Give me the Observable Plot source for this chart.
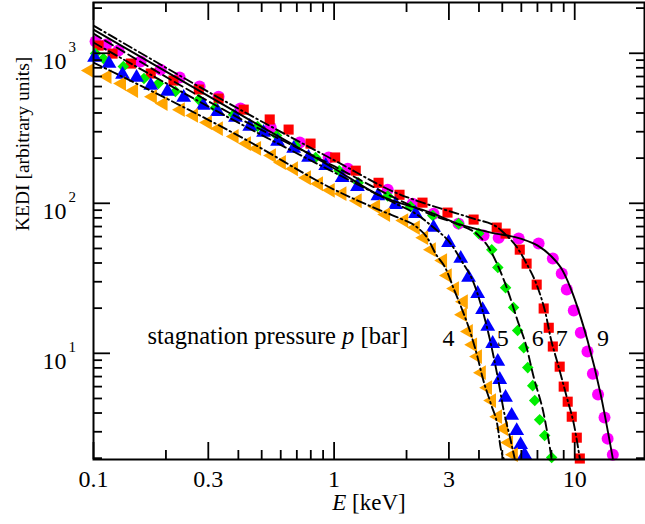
<!DOCTYPE html>
<html>
<head>
<meta charset="utf-8">
<script src="https://cdn.jsdelivr.net/npm/d3@7"></script>
<script src="https://cdn.jsdelivr.net/npm/@observablehq/plot@0.6"></script>
<style>
  html, body { margin: 0; padding: 0; background: #fff; }
  #chart { width: 645px; height: 524px; }
</style>
</head>
<body>
<div id="chart"></div>
<script>
// ---- measured points (E in keV, KEDI in arbitrary units) ----
const E9 = [0.102,0.113,0.127,0.157,0.190,0.228,0.276,0.331,0.408,0.545,0.720,0.949,1.14,1.67,2.12,2.59,3.29,4.18,4.83,5.85,7.08,8.11,8.83,9.27,9.91,10.6,11.3,11.9,12.5,13.3,13.7,14.4];
const V9 = [1197,1143,1042,881,778,689,600,514,428,320,254,202,170,123,99.5,85.3,73.2,60.9,59.0,58.2,53.9,42.8,34.0,26.6,19.3,13.7,10.3,7.32,5.31,3.73,2.70,2.11];

const E7 = [0.105,0.120,0.143,0.173,0.215,0.274,0.331,0.421,0.540,0.647,0.798,1.01,1.23,1.53,1.87,2.33,2.96,3.80,4.74,5.16,5.91,6.31,6.95,7.43,7.80,8.11,8.66,9.00,9.35,9.72,10.2,10.5];
const V7 = [1126,995,854,733,658,573,499,421,362,310,250,202,165,137,114,101,86.7,77.9,68.9,62.8,49.1,39.6,28.7,19.9,14.8,11.1,8.15,6.00,4.76,3.78,2.74,1.99];

const E6 = [0.102,0.110,0.133,0.162,0.186,0.219,0.274,0.321,0.382,0.481,0.577,0.692,0.838,1.05,1.26,1.67,2.08,2.57,3.29,3.99,4.52,4.79,5.16,5.57,5.79,6.14,6.38,6.69,6.82,7.15,7.50,8.02];
const V6 = [995,922,815,678,628,556,491,434,390,325,283,243,202,165,137,112,95.1,82.8,73.2,62.8,49.1,37.3,27.4,20.2,14.2,10.9,8.03,6.09,4.84,3.61,2.83,2.02];

const E5 = [0.101,0.116,0.132,0.151,0.173,0.203,0.237,0.286,0.328,0.389,0.446,0.509,0.582,0.679,0.783,0.923,1.08,1.25,1.52,1.80,2.18,2.59,2.99,3.36,3.62,3.95,4.14,4.35,4.56,4.79,4.88,5.16,5.47,5.74,5.96,6.19];
const V5 = [936,854,721,689,609,556,507,448,408,373,325,296,258,232,202,178,148,129,112,98.0,85.3,68.9,54.7,42.8,32.0,25.0,19.5,15.1,11.6,8.81,6.68,5.07,3.85,3.05,2.46,2.11];

const E4 = [0.0962,0.114,0.131,0.147,0.176,0.195,0.230,0.261,0.298,0.331,0.385,0.433,0.477,0.550,0.605,0.679,0.769,0.863,0.966,1.08,1.25,1.49,1.64,1.95,2.18,2.36,2.54,2.83,2.96,3.17,3.45,3.42,3.62,3.77,3.95,4.10,4.35,4.52,4.79,5.07,5.32,5.57];
const V4 = [767,699,628,564,514,462,421,385,345,315,279,250,232,208,187,170,148,135,122,116,104,95.1,84.1,76.7,68.9,59.0,49.1,41.5,33.0,27.0,22.1,18.1,14.0,11.4,9.51,7.43,5.90,4.84,3.78,3.15,2.54,2.11];

// ---- model curves ----
const F9E = [0.1,0.436,1.005,1.56,2.52,3.36,4.48,5.96,7.02,7.94,8.91,9.81,10.6,11.3,12.8,14.4];
const F9V = [1439,367,170,112,86.7,72.1,63.8,58.2,52.2,44.8,35.6,25.0,17.3,12.2,5.39,1.99];
const F7E = [0.1,0.436,1.005,1.89,2.33,2.96,3.80,4.79,5.16,5.69,6.31,7.02,7.57,7.94,8.50,9.35,9.91,10.5];
const F7V = [1530,396,193,114,101,89.4,79.0,68.9,61.9,52.2,39.6,27.4,18.4,12.7,8.54,4.84,3.40,1.99];
const F6E = [0.1,0.436,1.005,1.89,2.59,3.29,3.99,4.39,4.79,5.27,5.79,6.25,6.76,7.43,8.02];
const F6V = [1353,345,176,104,82.8,72.1,60.9,50.7,38.5,26.2,16.5,11.6,6.89,3.96,1.99];
const F5E = [0.1,0.436,1.005,1.80,2.18,2.59,3.05,3.42,3.77,4.14,4.48,4.79,5.07,5.42,5.63];
const F5V = [1179,320,160,99.5,85.3,68.9,53.9,40.2,30.5,19.3,11.6,6.89,4.15,2.62,1.99];
const F4E = [0.1,0.436,1.005,1.64,1.89,2.22,2.45,2.64,2.91,3.14,3.39,3.70,3.95,4.14,4.48,4.79,4.92,5.07];
const F4V = [867,262,123,86.7,79.0,68.9,58.2,46.2,36.7,27.0,19.9,13.5,9.36,6.89,4.62,3.20,2.35,1.99];

// ---- axis ticks & labels ----
const xTickLabels = [0.1, 0.3, 1, 3, 10];
const xMinorTicks = [0.2,0.4,0.5,0.6,0.7,0.8,0.9,2,4,5,6,7,8,9];
const yMajorTicks = [10, 100, 1000];
const yExponents = ["1", "2", "3"];
const yMinorTicks = [2,3,4,5,6,7,8,9,20,30,40,50,60,70,80,90,200,300,400,500,600,700,800,900,2000];

const pressures = ["4", "5", "6", "7", "9"];
const pressureLabelE = [2.99, 5.02, 7.02, 8.83, 13.1];
const annotation = "stagnation pressure p [bar]";
const xTitle = "E [keV]";
const yTitle = "KEDI [arbitrary units]";

const W = 645, H = 524;
const mL = 93, mR = 1, mT = 2, mB = 65;
const iw = W - mL - mR, ih = H - mT - mB;

const zip = (E, V) => E.map((e, i) => ({e, v: V[i]}));

const series = [
  {pts: zip(E9, V9), fit: zip(F9E, F9V), color: "#ff00ff", symbol: "circle", r: 6.0, rotate: 0, dash: null},
  {pts: zip(E7, V7), fit: zip(F7E, F7V), color: "#ff0000", symbol: "square", r: 5.7, rotate: 0, dash: "9,3.5,1.5,3.5"},
  {pts: zip(E6, V6), fit: zip(F6E, F6V), color: "#00ee00", symbol: "square", r: 4.6, rotate: 45, dash: "9,4.5"},
  {pts: zip(E5, V5), fit: zip(F5E, F5V), color: "#0000ff", symbol: "triangle", r: 5.5, rotate: 0, dash: "9,3.5,1.5,3.5"},
  {pts: zip(E4, V4), fit: zip(F4E, F4V), color: "#ffa500", symbol: "triangle", r: 5.5, rotate: -90, dash: "9,3.5,1.5,3.5"}
];

const marks = [];
for (const s of series) {
  marks.push(Plot.dot(s.pts, {x: "e", y: "v", symbol: () => s.symbol, fill: s.color, r: s.r, rotate: s.rotate, stroke: "none"}));
}
for (const s of series) {
  marks.push(Plot.line(s.fit, {x: "e", y: "v", stroke: "black", strokeWidth: 1.9, strokeDasharray: s.dash, curve: "monotone-x", clip: true}));
}

// ticks (inward, on all four sides)
marks.push(
  Plot.tickX(xTickLabels, {x: d => d, insetTop: ih - 17, strokeWidth: 1.8}),
  Plot.tickX(xMinorTicks, {x: d => d, insetTop: ih - 9, strokeWidth: 1.8}),
  Plot.tickX(xTickLabels, {x: d => d, insetBottom: ih - 18, strokeWidth: 1.8}),
  Plot.tickX(xMinorTicks, {x: d => d, insetBottom: ih - 10, strokeWidth: 1.8}),
  Plot.tickY(yMajorTicks, {y: d => d, insetRight: iw - 17, strokeWidth: 1.8}),
  Plot.tickY(yMinorTicks, {y: d => d, insetRight: iw - 9, strokeWidth: 1.8}),
  Plot.tickY(yMajorTicks, {y: d => d, insetLeft: iw - 15, strokeWidth: 1.8}),
  Plot.tickY(yMinorTicks, {y: d => d, insetLeft: iw - 8, strokeWidth: 1.8}),
  Plot.frame({stroke: "black", strokeWidth: 2})
);

// tick labels
marks.push(
  Plot.text(xTickLabels, {x: d => d, text: d => String(d), frameAnchor: "bottom", dy: 27, fontSize: 24, fill: "black"}),
  Plot.text(yMajorTicks, {y: d => d, text: () => "10", frameAnchor: "left", textAnchor: "end", dx: -27, dy: 8, fontSize: 24, fill: "black"}),
  Plot.text(yMajorTicks, {y: d => d, text: (d, i) => yExponents[i], frameAnchor: "left", textAnchor: "start", dx: -25, dy: -6, fontSize: 15, fill: "black"})
);

// titles
marks.push(
  Plot.text([xTitle], {text: d => d, frameAnchor: "bottom", dy: 50, fontSize: 23, fill: "black"}),
  Plot.text([yTitle], {text: d => d, frameAnchor: "left", rotate: -90, dx: -71, fontSize: 19.5, fill: "black"})
);

// annotations
marks.push(
  Plot.text([annotation], {text: d => d, x: () => 0.1677, y: () => 13.0, textAnchor: "start", fontSize: 24.5, fill: "black"}),
  Plot.text(pressures, {text: d => d, x: (d, i) => pressureLabelE[i], y: () => 12.5, fontSize: 24, fill: "black"})
);

const chart = Plot.plot({
  width: W,
  height: H,
  marginLeft: mL, marginRight: mR, marginTop: mT, marginBottom: mB,
  x: {type: "log", domain: [0.1, 19.5], axis: null},
  y: {type: "log", domain: [1.96, 2180], axis: null},
  style: {fontFamily: "'Liberation Serif', 'Times New Roman', serif", background: "white", overflow: "visible"},
  marks
});

// italic variable names inside the texts
chart.querySelectorAll("text").forEach(t => {
  if (t.textContent === annotation) {
    t.innerHTML = 'stagnation pressure <tspan font-style="italic">p</tspan> [bar]';
  } else if (t.textContent === xTitle) {
    t.innerHTML = '<tspan font-style="italic">E</tspan> [keV]';
  }
});

document.getElementById("chart").appendChild(chart);
</script>
</body>
</html>
